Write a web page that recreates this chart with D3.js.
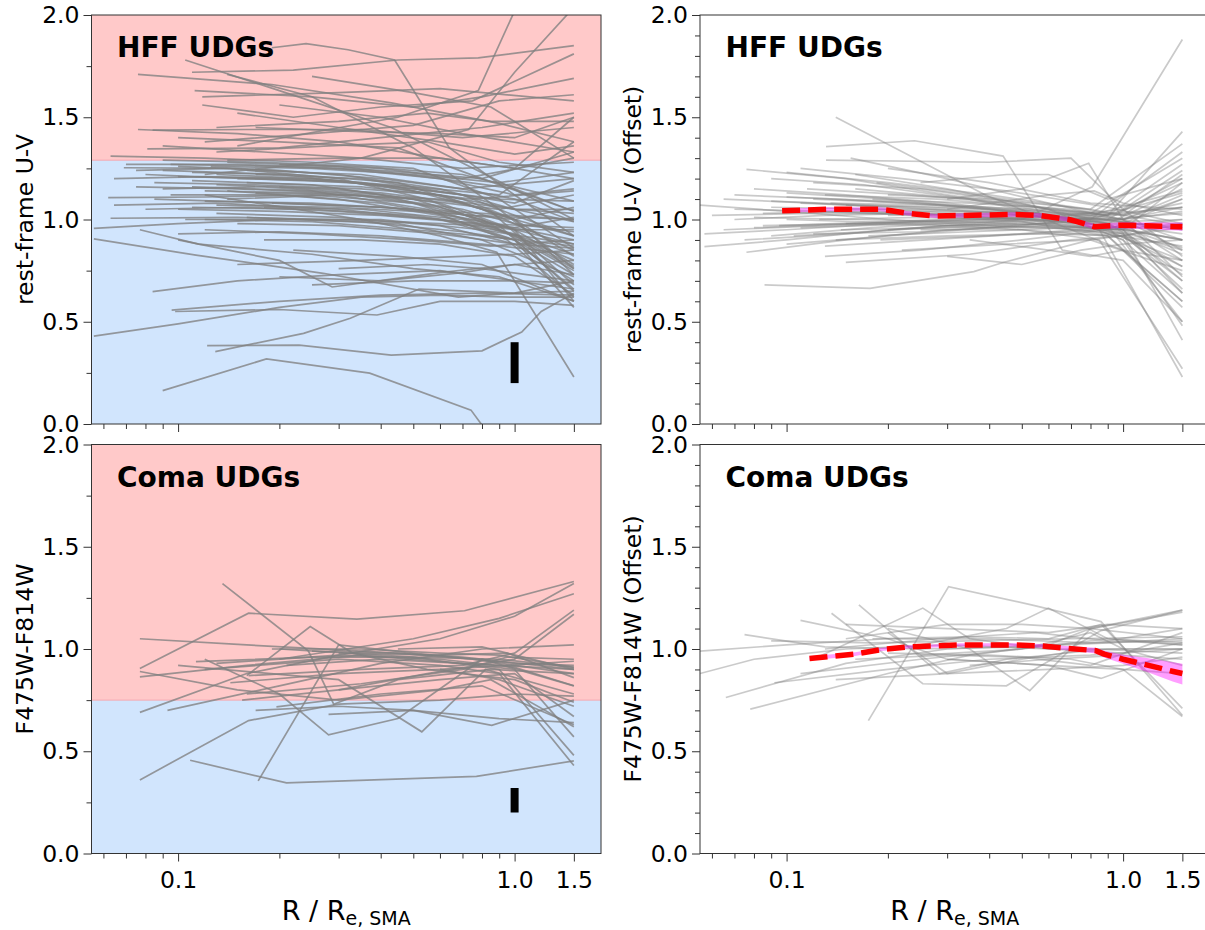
<!DOCTYPE html>
<html>
<head>
<meta charset="utf-8">
<script src="https://cdn.jsdelivr.net/npm/d3@7"></script>
<style>
  body { margin: 0; background: #fff; }
  svg { display: block; font-family: "DejaVu Sans", sans-serif; }
</style>
</head>
<body>
<div id="chart"></div>
<script>
// profiles: each one is a list of [R / Re, colour] points
const hffProfiles = [
  [[0.105,1.78],[0.2,1.63],[0.43,1.45],[0.82,1.22],[1.5,1.0]],
  [[0.076,1.71],[0.19,1.66],[0.43,1.57],[0.9,1.47],[1.5,1.38]],
  [[0.11,1.72],[0.22,1.73],[0.45,1.78],[0.78,1.79],[1.5,1.85]],
  [[0.19,1.84],[0.24,1.86],[0.32,1.83],[0.44,1.78],[0.64,1.35],[1.0,1.12],[1.5,0.92]],
  [[0.15,1.36],[0.45,1.5],[0.78,1.63],[1.0,2.02],[1.1,2.2]],
  [[0.12,1.22],[0.35,1.3],[0.73,1.44],[1.0,1.72],[1.43,2.0],[1.6,2.15]],
  [[0.112,1.63],[0.25,1.6],[0.5,1.55],[0.8,1.6],[1.5,1.69]],
  [[0.118,1.6],[0.3,1.62],[0.6,1.64],[1.5,1.58]],
  [[0.118,1.56],[0.22,1.5],[0.4,1.55],[0.75,1.58],[1.5,1.81]],
  [[0.076,1.44],[0.15,1.42],[0.3,1.38],[0.6,1.3],[1.0,1.25],[1.5,1.5]],
  [[0.081,1.345],[0.2,1.35],[0.4,1.4],[0.8,1.45],[1.5,1.52]],
  [[0.084,1.437],[0.16,1.44],[0.35,1.44],[0.7,1.4],[1.5,1.45]],
  [[0.063,1.31],[0.12,1.3],[0.25,1.28],[0.5,1.25],[0.9,1.1],[1.5,0.86]],
  [[0.14,1.71],[0.25,1.6],[0.5,1.35],[0.9,1.05],[1.5,0.76]],
  [[0.13,1.45],[0.3,1.48],[0.55,1.52],[0.85,1.48],[1.5,1.48]],
  [[0.1,1.4],[0.2,1.38],[0.45,1.35],[0.8,1.2],[1.5,1.04]],
  [[0.15,1.52],[0.3,1.45],[0.6,1.38],[1.0,1.32],[1.5,1.36]],
  [[0.12,1.38],[0.25,1.42],[0.5,1.46],[0.9,1.58],[1.5,1.61]],
  [[0.2,1.56],[0.4,1.5],[0.7,1.42],[1.5,1.33]],
  [[0.09,1.36],[0.18,1.33],[0.35,1.3],[0.7,1.25],[1.5,1.28]],
  [[0.25,1.7],[0.5,1.62],[0.85,1.55],[1.5,1.3]],
  [[0.17,1.45],[0.35,1.43],[0.6,1.42],[1.0,1.4],[1.5,1.5]],
  [[0.13,1.33],[0.28,1.36],[0.55,1.38],[0.9,1.28],[1.5,1.23]],
  [[0.069,1.253],[0.15,1.25],[0.3,1.22],[0.6,1.15],[1.0,1.05],[1.5,0.99]],
  [[0.0645,1.2],[0.12,1.21],[0.25,1.2],[0.5,1.15],[0.9,1.1],[1.5,1.09]],
  [[0.062,1.107],[0.12,1.11],[0.25,1.12],[0.5,1.08],[0.9,0.95],[1.5,0.83]],
  [[0.0645,1.07],[0.13,1.08],[0.3,1.05],[0.6,1.0],[1.0,0.9],[1.5,0.73]],
  [[0.063,1.006],[0.15,1.01],[0.3,1.0],[0.6,0.98],[1.0,0.96],[1.5,1.01]],
  [[0.0562,0.957],[0.1,0.98],[0.2,1.0],[0.4,1.0],[0.8,0.95],[1.5,0.88]],
  [[0.0562,0.905],[0.113,0.826],[0.27,0.737],[0.68,0.62],[1.0,0.64],[1.5,0.7]],
  [[0.077,0.95],[0.115,0.88],[0.25,0.83],[0.5,0.76],[0.9,0.72],[1.5,0.6]],
  [[0.084,0.647],[0.15,0.7],[0.3,0.73],[0.6,0.75],[1.0,0.7],[1.5,0.69]],
  [[0.0562,0.43],[0.1,0.49],[0.2,0.57],[0.35,0.62],[0.6,0.63],[1.0,0.62],[1.5,0.62]],
  [[0.0957,0.557],[0.2,0.6],[0.4,0.63],[0.8,0.64],[1.5,0.63]],
  [[0.098,0.55],[0.2,0.56],[0.39,0.533],[0.6,0.6],[1.0,0.6],[1.5,0.58]],
  [[0.122,0.383],[0.229,0.386],[0.43,0.337],[0.8,0.358],[1.05,0.45],[1.2,0.55],[1.5,0.64]],
  [[0.129,0.354],[0.236,0.443],[0.325,0.517],[0.52,0.66],[1.0,0.64],[1.5,0.65]],
  [[0.09,0.163],[0.183,0.318],[0.371,0.249],[0.742,0.068],[0.9,-0.12]],
  [[0.12,1.12],[0.35,1.0],[0.6,0.92],[0.885,0.84],[1.5,0.23]],
  [[0.07,1.27],[0.15,1.27],[0.3,1.25],[0.6,1.2],[1.0,1.12],[1.5,1.15]],
  [[0.075,1.24],[0.14,1.25],[0.3,1.2],[0.55,1.1],[0.9,0.95],[1.5,0.8]],
  [[0.08,1.22],[0.16,1.2],[0.35,1.18],[0.7,1.1],[1.0,1.0],[1.5,0.92]],
  [[0.085,1.18],[0.17,1.17],[0.35,1.15],[0.6,1.12],[1.0,1.05],[1.5,1.03]],
  [[0.09,1.15],[0.18,1.16],[0.4,1.12],[0.8,1.0],[1.5,0.75]],
  [[0.095,1.12],[0.2,1.12],[0.4,1.08],[0.75,1.0],[1.5,0.9]],
  [[0.1,1.26],[0.2,1.24],[0.4,1.2],[0.7,1.15],[1.5,1.2]],
  [[0.1,1.05],[0.2,1.04],[0.4,1.02],[0.8,0.98],[1.5,0.96]],
  [[0.105,1.0],[0.22,1.0],[0.45,0.98],[0.8,0.9],[1.5,0.72]],
  [[0.11,1.23],[0.22,1.22],[0.45,1.18],[0.8,1.05],[1.5,0.85]],
  [[0.11,1.19],[0.25,1.17],[0.5,1.1],[0.9,0.97],[1.5,0.65]],
  [[0.12,1.14],[0.25,1.13],[0.5,1.1],[0.9,1.05],[1.5,1.12]],
  [[0.12,1.09],[0.25,1.08],[0.5,1.05],[0.85,0.98],[1.5,0.88]],
  [[0.125,1.26],[0.25,1.25],[0.5,1.22],[0.9,1.18],[1.5,1.23]],
  [[0.13,1.03],[0.3,1.01],[0.6,0.97],[1.0,0.88],[1.5,0.7]],
  [[0.13,1.17],[0.3,1.15],[0.6,1.08],[1.0,0.95],[1.5,0.78]],
  [[0.14,1.28],[0.3,1.26],[0.6,1.2],[1.0,1.15],[1.5,1.04]],
  [[0.14,1.1],[0.3,1.12],[0.6,1.1],[1.0,1.05],[1.5,1.05]],
  [[0.15,1.2],[0.3,1.19],[0.6,1.12],[1.0,1.0],[1.5,0.82]],
  [[0.15,0.98],[0.3,0.97],[0.6,0.93],[1.0,0.88],[1.5,0.86]],
  [[0.16,1.24],[0.35,1.22],[0.7,1.15],[1.0,1.1],[1.5,0.99]],
  [[0.17,1.13],[0.35,1.12],[0.7,1.05],[1.0,0.98],[1.5,0.94]],
  [[0.18,1.06],[0.35,1.05],[0.7,1.0],[1.0,0.92],[1.5,0.76]],
  [[0.2,1.27],[0.4,1.25],[0.7,1.2],[1.5,1.3]],
  [[0.085,1.1],[0.2,1.08],[0.4,1.06],[0.8,1.03],[1.5,1.0]],
  [[0.09,1.29],[0.18,1.28],[0.35,1.26],[0.7,1.22],[1.5,1.09]],
  [[0.075,1.16],[0.15,1.15],[0.3,1.13],[0.6,1.06],[1.0,0.95],[1.5,0.6]],
  [[0.1,1.21],[0.2,1.2],[0.4,1.17],[0.7,1.12],[1.0,1.08],[1.5,1.19]],
  [[0.12,1.0],[0.25,0.99],[0.5,0.95],[0.8,0.92],[1.5,0.87]],
  [[0.14,1.14],[0.3,1.1],[0.6,1.02],[1.0,0.9],[1.5,0.57]],
  [[0.095,1.27],[0.2,1.26],[0.4,1.24],[0.8,1.2],[1.5,1.33]],
  [[0.11,1.06],[0.25,1.05],[0.5,1.02],[1.0,0.95],[1.5,0.95]],
  [[0.13,1.22],[0.25,1.2],[0.5,1.16],[0.9,1.12],[1.5,1.38]],
  [[0.16,1.01],[0.35,0.99],[0.7,0.94],[1.0,0.9],[1.5,0.66]],
  [[0.2,1.16],[0.4,1.13],[0.7,1.08],[1.0,1.0],[1.5,0.73]],
  [[0.1,0.93],[0.2,0.94],[0.4,0.92],[0.8,0.88],[1.5,0.83]],
  [[0.12,0.95],[0.25,0.93],[0.5,0.9],[0.85,0.87],[1.5,0.9]],
  [[0.18,0.9],[0.35,0.9],[0.6,0.88],[1.0,0.82],[1.5,0.63]],
  [[0.22,0.85],[0.45,0.82],[0.8,0.78],[1.5,0.6]],
  [[0.2,0.72],[0.4,0.7],[0.7,0.74],[1.0,0.78],[1.5,0.8]],
  [[0.15,0.78],[0.35,0.8],[0.7,0.82],[1.0,0.83],[1.5,0.85]],
  [[0.25,0.68],[0.5,0.7],[1.0,0.7],[1.5,0.66]],
  [[0.14,1.29],[0.3,1.3],[0.6,1.3],[1.0,1.25],[1.5,1.2]],
  [[0.17,1.22],[0.35,1.2],[0.7,1.12],[1.0,1.02],[1.5,0.92]],
  [[0.19,1.08],[0.4,1.06],[0.75,1.02],[1.5,1.0]],
  [[0.08,1.05],[0.16,1.06],[0.3,1.04],[0.6,1.0],[1.0,0.93],[1.5,0.77]],
  [[0.3,0.76],[0.55,0.78],[0.8,0.76],[1.5,0.7]],
  [[0.1,0.9],[0.2,0.8],[0.287,0.67],[0.6,0.74],[1.0,0.78],[1.5,0.73]],
  [[0.09,1.24],[0.2,1.22],[0.45,1.16],[0.85,1.04],[1.5,0.68]],
  [[0.11,1.16],[0.25,1.14],[0.55,1.05],[0.95,0.9],[1.5,0.62]],
  [[0.13,1.07],[0.3,1.06],[0.65,1.03],[1.0,1.0],[1.5,1.06]],
  [[0.16,1.18],[0.35,1.16],[0.75,1.1],[1.5,1.14]]
];

const hffOffsetProfiles = [
  [[0.086,0.68],[0.177,0.663],[0.36,0.745],[0.44,0.79],[0.8,0.9],[1.5,0.96]],
  [[0.14,1.5],[0.39,1.12],[0.7,0.95],[1.0,0.85],[1.5,0.6]],
  [[0.131,1.356],[0.24,1.385],[0.44,1.31],[0.66,0.85],[1.0,0.8],[1.5,0.5]],
  [[0.131,1.29],[0.4,1.28],[0.7,1.3],[1.0,1.05],[1.5,0.82]],
  [[0.3,1.1],[0.5,1.15],[0.79,1.275],[1.0,1.0],[1.5,0.72]],
  [[0.2,0.95],[0.5,1.0],[0.81,1.16],[1.5,1.88]],
  [[0.0553,1.07],[0.1,1.04],[0.2,1.0],[0.4,0.97],[0.8,0.95],[1.5,1.0]],
  [[0.057,0.93],[0.1,0.95],[0.2,0.98],[0.4,1.0],[0.8,1.02],[1.5,1.06]],
  [[0.057,0.867],[0.1,0.9],[0.2,0.95],[0.4,0.98],[0.8,1.0],[1.5,1.13]],
  [[0.076,1.245],[0.15,1.2],[0.3,1.12],[0.6,1.05],[1.0,1.0],[1.5,0.9]],
  [[0.076,0.84],[0.15,0.9],[0.3,0.95],[0.6,0.97],[1.0,0.95],[1.5,1.18]],
  [[0.065,1.1],[0.12,1.08],[0.25,1.05],[0.5,1.02],[0.9,1.0],[1.5,1.2]],
  [[0.07,1.0],[0.13,1.02],[0.25,1.03],[0.5,1.0],[0.9,0.95],[1.5,0.77]],
  [[0.08,1.15],[0.15,1.12],[0.3,1.08],[0.6,1.02],[1.0,0.95],[1.5,0.7]],
  [[0.09,1.2],[0.17,1.17],[0.35,1.1],[0.7,1.0],[1.0,0.9],[1.5,0.64]],
  [[0.085,0.97],[0.17,0.98],[0.35,1.0],[0.7,1.02],[1.0,1.05],[1.5,1.24]],
  [[0.1,1.13],[0.2,1.1],[0.4,1.05],[0.8,0.98],[1.5,0.9]],
  [[0.1,0.88],[0.2,0.92],[0.4,0.96],[0.8,1.0],[1.5,1.33]],
  [[0.11,1.08],[0.22,1.06],[0.45,1.03],[0.9,0.98],[1.5,0.83]],
  [[0.12,0.93],[0.25,0.94],[0.5,0.97],[0.9,1.02],[1.5,1.06]],
  [[0.12,1.18],[0.25,1.15],[0.5,1.08],[0.9,0.98],[1.5,0.77]],
  [[0.13,0.82],[0.25,0.85],[0.5,0.9],[0.9,0.95],[1.5,1.1]],
  [[0.14,1.05],[0.3,1.05],[0.6,1.02],[1.0,0.97],[1.5,0.93]],
  [[0.15,0.98],[0.3,0.97],[0.6,0.98],[1.0,1.0],[1.5,1.04]],
  [[0.16,1.22],[0.3,1.15],[0.6,1.05],[1.0,0.9],[1.5,0.48]],
  [[0.15,0.79],[0.35,0.83],[0.7,0.9],[1.0,0.92],[1.5,0.98]],
  [[0.18,1.1],[0.35,1.08],[0.7,1.05],[1.0,1.0],[1.5,1.12]],
  [[0.19,0.9],[0.4,0.92],[0.75,0.95],[1.5,0.87]],
  [[0.2,1.02],[0.4,1.03],[0.8,1.0],[1.5,0.96]],
  [[0.09,1.06],[0.2,1.05],[0.4,1.02],[0.8,0.98],[1.0,0.93],[1.5,0.41]],
  [[0.1,1.0],[0.25,0.98],[0.5,0.95],[0.85,0.9],[1.5,0.27]],
  [[0.11,0.96],[0.25,0.98],[0.5,0.99],[0.85,0.95],[1.5,0.23]],
  [[0.1,1.23],[0.2,1.18],[0.4,1.12],[0.8,1.05],[1.5,1.37]],
  [[0.13,1.12],[0.28,1.1],[0.55,1.06],[0.9,1.02],[1.5,1.43]],
  [[0.07,1.12],[0.14,1.1],[0.28,1.07],[0.55,1.03],[0.9,0.98],[1.5,1.15]],
  [[0.075,0.9],[0.15,0.93],[0.3,0.97],[0.6,0.98],[0.9,0.96],[1.5,0.85]],
  [[0.085,1.03],[0.16,1.04],[0.32,1.02],[0.65,0.99],[1.0,0.93],[1.5,0.66]],
  [[0.095,0.97],[0.2,0.99],[0.4,1.01],[0.8,1.03],[1.5,1.3]],
  [[0.12,1.04],[0.25,1.02],[0.5,0.99],[0.9,0.92],[1.5,0.6]],
  [[0.14,0.9],[0.3,0.92],[0.6,0.93],[1.0,0.92],[1.5,0.7]],
  [[0.16,1.15],[0.35,1.1],[0.7,1.02],[1.5,0.95]],
  [[0.2,1.25],[0.4,1.18],[0.8,1.08],[1.5,1.05]],
  [[0.22,0.85],[0.45,0.88],[0.8,0.9],[1.5,0.75]],
  [[0.25,1.18],[0.45,1.22],[0.6,1.22],[0.9,1.1],[1.5,1.2]],
  [[0.3,0.82],[0.5,0.78],[0.75,0.85],[1.0,0.88],[1.5,0.9]],
  [[0.09,1.09],[0.18,1.07],[0.36,1.05],[0.7,1.02],[1.0,0.99],[1.5,1.0]],
  [[0.08,1.01],[0.16,1.0],[0.32,0.99],[0.64,0.97],[1.0,0.95],[1.5,0.9]],
  [[0.105,0.92],[0.21,0.95],[0.42,0.97],[0.84,0.96],[1.5,0.8]],
  [[0.115,1.15],[0.23,1.12],[0.46,1.08],[0.9,1.02],[1.5,1.27]],
  [[0.125,1.0],[0.25,1.01],[0.5,1.0],[0.9,0.97],[1.5,0.5]],
  [[0.135,1.08],[0.27,1.07],[0.55,1.05],[0.95,1.03],[1.5,1.18]],
  [[0.145,0.95],[0.3,0.96],[0.6,0.96],[1.0,0.93],[1.5,0.73]],
  [[0.155,1.3],[0.3,1.2],[0.6,1.08],[1.0,1.0],[1.5,0.85]],
  [[0.165,1.04],[0.33,1.04],[0.66,1.03],[1.0,1.0],[1.5,1.1]],
  [[0.06,1.02],[0.12,1.03],[0.24,1.03],[0.5,1.02],[0.9,1.0],[1.5,1.03]],
  [[0.065,0.95],[0.13,0.97],[0.26,0.99],[0.5,1.0],[0.9,1.0],[1.5,0.95]],
  [[0.175,0.92],[0.35,0.94],[0.7,0.96],[1.0,0.95],[1.5,0.64]],
  [[0.185,1.18],[0.36,1.12],[0.7,1.06],[1.0,1.02],[1.5,1.22]],
  [[0.11,1.25],[0.22,1.2],[0.45,1.14],[0.9,1.06],[1.5,0.98]],
  [[0.09,0.92],[0.18,0.96],[0.36,0.99],[0.72,1.0],[1.0,0.98],[1.5,0.8]],
  [[0.13,0.87],[0.26,0.9],[0.52,0.93],[0.9,0.95],[1.5,0.98]],
  [[0.15,1.07],[0.3,1.06],[0.6,1.04],[1.0,1.02],[1.5,1.08]],
  [[0.12,1.1],[0.24,1.08],[0.5,1.04],[0.9,0.97],[1.5,0.9]],
  [[0.2,1.12],[0.4,1.1],[0.8,1.05],[1.5,0.97]],
  [[0.25,0.95],[0.5,0.95],[0.9,0.92],[1.5,0.57]],
  [[0.1,1.11],[0.2,1.09],[0.4,1.06],[0.8,1.02],[1.5,1.14]],
  [[0.07,1.05],[0.14,1.04],[0.28,1.02],[0.56,1.0],[1.0,0.96],[1.5,0.86]],
  [[0.08,0.96],[0.16,0.98],[0.32,1.0],[0.64,1.01],[1.0,1.0],[1.5,1.06]],
  [[0.3,1.05],[0.6,1.12],[0.82,1.14],[1.0,1.08],[1.5,1.02]],
  [[0.35,0.9],[0.6,0.85],[0.8,0.82],[1.0,0.85],[1.5,0.8]]
];

const comaProfiles = [
  [[0.077,1.05],[0.16,1.02],[0.35,0.99],[0.7,0.96],[1.5,0.9]],
  [[0.077,0.905],[0.162,1.175],[0.34,1.146],[0.71,1.187],[1.5,1.33]],
  [[0.1355,1.32],[0.244,0.99],[0.29,0.73],[0.45,0.85],[0.85,0.9],[1.5,0.88]],
  [[0.16,0.87],[0.247,1.11],[0.33,0.98],[0.55,0.9],[1.0,0.85],[1.5,0.74]],
  [[0.1086,0.456],[0.21,0.345],[0.77,0.377],[1.5,0.453]],
  [[0.077,0.36],[0.162,0.65],[0.3,0.73],[0.6,0.75],[1.0,0.78],[1.5,0.77]],
  [[0.173,0.355],[0.3,1.02],[0.5,0.98],[1.0,0.93],[1.5,0.92]],
  [[0.077,0.69],[0.16,0.88],[0.3,0.97],[0.6,1.05],[1.0,1.16],[1.5,1.32]],
  [[0.093,0.7],[0.2,0.82],[0.4,0.93],[0.8,1.0],[1.5,1.02]],
  [[0.12,0.95],[0.2,0.78],[0.28,0.58],[0.45,0.66],[0.8,0.95],[1.5,0.82]],
  [[0.1,0.92],[0.3,0.85],[0.53,0.595],[0.82,0.9],[1.5,0.78]],
  [[0.17,0.7],[0.3,0.72],[0.5,0.7],[0.855,0.627],[1.5,0.75]],
  [[0.12,0.9],[0.3,0.95],[0.6,0.92],[0.9,0.88],[1.5,0.43]],
  [[0.2,1.0],[0.5,0.96],[0.9,0.9],[1.5,0.48]],
  [[0.077,0.864],[0.16,0.92],[0.35,0.97],[0.7,0.93],[1.5,0.9]],
  [[0.2,0.95],[0.5,1.05],[0.9,1.15],[1.5,1.27]],
  [[0.113,0.938],[0.25,0.96],[0.5,0.96],[0.9,0.95],[1.5,0.91]],
  [[0.143,0.835],[0.3,0.88],[0.6,0.9],[0.95,0.92],[1.5,0.94]],
  [[0.155,0.75],[0.3,0.8],[0.6,0.85],[1.0,0.88],[1.5,0.67]],
  [[0.162,0.87],[0.35,0.9],[0.7,0.92],[1.0,0.98],[1.5,1.19]],
  [[0.196,0.717],[0.4,0.78],[0.8,0.82],[1.5,0.63]],
  [[0.21,0.92],[0.4,0.95],[0.7,0.93],[1.0,0.9],[1.5,0.57]],
  [[0.25,0.99],[0.45,0.98],[0.75,0.95],[1.0,0.92],[1.5,0.88]],
  [[0.3,0.98],[0.6,0.97],[0.95,0.98],[1.5,0.9]],
  [[0.28,0.68],[0.5,0.7],[0.9,0.66],[1.5,0.64]],
  [[0.13,0.93],[0.3,0.97],[0.6,0.95],[1.0,0.91],[1.5,0.82]],
  [[0.45,1.0],[0.8,1.01],[0.95,0.98],[1.5,0.86]],
  [[0.19,1.0],[0.35,1.0],[0.6,0.98],[0.9,0.97],[1.5,0.91]],
  [[0.3,0.8],[0.55,0.88],[1.0,0.95],[1.5,1.17]],
  [[0.16,0.78],[0.35,0.83],[0.7,0.9],[0.95,0.96],[1.5,0.95]],
  [[0.6,0.9],[0.9,0.85],[1.5,0.72]],
  [[0.077,0.89],[0.15,0.8],[0.3,0.75],[0.6,0.8],[0.85,0.85],[1.5,0.62]]
];

const comaOffsetProfiles = [
  [[0.175,0.65],[0.303,1.305],[0.534,1.216],[0.86,1.134],[1.5,0.676]],
  [[0.164,1.216],[0.285,0.88],[0.45,0.95],[0.9,1.0],[1.5,1.0]],
  [[0.12,0.95],[0.254,1.2],[0.35,1.05],[0.6,1.0],[1.0,0.98],[1.5,1.03]],
  [[0.136,1.175],[0.254,0.83],[0.45,0.82],[0.86,1.09],[1.5,1.19]],
  [[0.11,1.14],[0.2,1.05],[0.3,0.95],[0.6,0.92],[1.0,0.9],[1.5,0.88]],
  [[0.075,1.07],[0.13,1.01],[0.25,1.0],[0.5,1.01],[0.9,1.03],[1.5,1.05]],
  [[0.0553,0.99],[0.1,1.02],[0.2,1.05],[0.4,1.05],[0.8,1.03],[1.5,1.04]],
  [[0.0553,0.88],[0.08,0.95],[0.15,1.0],[0.3,1.02],[0.6,1.0],[1.5,1.0]],
  [[0.066,0.763],[0.15,0.93],[0.3,1.0],[0.6,1.02],[1.0,1.04],[1.5,1.02]],
  [[0.078,0.706],[0.2,0.88],[0.35,0.97],[0.6,1.02],[0.8,1.1],[1.5,1.18]],
  [[0.092,0.835],[0.2,0.9],[0.4,0.95],[0.8,0.97],[1.5,1.0]],
  [[0.14,0.85],[0.3,0.88],[0.6,0.9],[1.0,0.92],[1.5,0.96]],
  [[0.2,1.1],[0.35,1.0],[0.528,0.796],[0.8,1.1],[1.5,1.05]],
  [[0.3,0.95],[0.6,0.92],[0.86,0.856],[1.5,1.0]],
  [[0.15,1.12],[0.3,1.1],[0.6,1.08],[0.9,1.12],[1.5,1.1]],
  [[0.18,1.05],[0.35,1.06],[0.6,1.05],[0.86,1.12],[1.5,0.71]],
  [[0.2,0.98],[0.4,0.97],[0.7,0.95],[1.0,0.9],[1.5,0.67]],
  [[0.09,1.04],[0.18,1.03],[0.35,1.04],[0.7,1.05],[1.5,1.06]],
  [[0.25,1.02],[0.45,1.1],[0.6,1.2],[0.9,1.05],[1.5,1.02]],
  [[0.16,0.95],[0.3,0.97],[0.5,0.96],[0.8,0.92],[1.5,1.08]],
  [[0.11,0.88],[0.25,0.95],[0.5,1.0],[0.9,1.05],[1.5,1.03]],
  [[0.2,1.08],[0.3,0.88],[0.5,0.95],[0.8,1.0],[1.5,0.98]],
  [[0.13,1.0],[0.28,1.05],[0.55,1.08],[0.9,1.04],[1.5,1.1]],
  [[0.25,0.97],[0.5,1.0],[0.8,1.08],[1.0,1.0],[1.5,0.92]],
  [[0.35,0.92],[0.6,0.95],[1.0,0.97],[1.5,0.95]],
  [[0.15,1.05],[0.3,1.12],[0.5,1.12],[0.8,1.1],[1.5,1.19]]
];

// running median and its uncertainty band (right-hand panels)
const hffMedR    = [0.097,0.133,0.19,0.205,0.23,0.276,0.334,0.48,0.57,0.69,0.73,0.82,0.98,1.5];
const hffMedV    = [1.043,1.05,1.05,1.043,1.03,1.017,1.02,1.025,1.019,1.0,0.99,0.965,0.972,0.965];
const hffBandLo  = [1.033,1.04,1.04,1.033,1.02,1.007,1.01,1.014,1.008,0.989,0.978,0.952,0.957,0.945];
const hffBandHi  = [1.053,1.06,1.06,1.053,1.04,1.027,1.03,1.036,1.03,1.011,1.002,0.978,0.987,0.985];

const comaMedR   = [0.117,0.16,0.192,0.23,0.33,0.477,0.573,0.688,0.83,0.878,1.0,1.19,1.41,1.5];
const comaMedV   = [0.954,0.975,0.998,1.01,1.02,1.02,1.015,1.003,0.992,0.975,0.95,0.92,0.89,0.88];
const comaBandLo = [0.944,0.966,0.99,1.002,1.012,1.012,1.006,0.993,0.978,0.958,0.928,0.885,0.84,0.826];
const comaBandHi = [0.964,0.984,1.006,1.018,1.028,1.028,1.024,1.013,1.006,0.992,0.972,0.955,0.935,0.928];

// red / blue split and typical error bar (left-hand panels)
const hffSplit = 1.29, comaSplit = 0.75;
const hffErr = [0.2, 0.4], comaErr = [0.2, 0.32];

// ticks
const xMajorTicks  = [0.1, 1.0, 1.5];
const xMajorLabels = ["0.1", "1.0", "1.5"];
const xMinorTicks  = [0.06,0.07,0.08,0.09,0.2,0.3,0.4,0.5,0.6,0.7,0.8,0.9];
const yMajorTicks  = [0, 0.5, 1.0, 1.5, 2.0];
const yMajorLabels = ["0.0", "0.5", "1.0", "1.5", "2.0"];
const yMinorSplit  = [0.25, 0.75, 1.25, 1.75];
const yMinorOffset = [0.1,0.2,0.3,0.4,0.6,0.7,0.8,0.9,1.1,1.2,1.3,1.4,1.6,1.7,1.8,1.9];

// layout
const pw = 509.5, ph = 409;
const svg = d3.select("#chart").append("svg")
    .attr("width", 1205)
    .attr("height", 930);
const defs = svg.append("defs");

const x = d3.scaleLog().domain([0.0553, 1.806]).range([0, pw]);
const y = d3.scaleLinear().domain([0, 2]).range([ph, 0]);
const line = d3.line().x(d => x(d[0])).y(d => y(d[1]));

const panels = [
  {id: "a", left: 91.5, top: 15, data: hffProfiles, split: hffSplit, err: hffErr,
   title: "HFF UDGs", ylabel: "rest-frame U-V", xlabels: false, yMinor: yMinorSplit},
  {id: "b", left: 700, top: 15, data: hffOffsetProfiles,
   med: {r: hffMedR, v: hffMedV, lo: hffBandLo, hi: hffBandHi},
   title: "HFF UDGs", ylabel: "rest-frame U-V (Offset)", xlabels: false, yMinor: yMinorOffset},
  {id: "c", left: 91.5, top: 444.5, data: comaProfiles, split: comaSplit, err: comaErr,
   title: "Coma UDGs", ylabel: "F475W-F814W", xlabels: true, yMinor: yMinorSplit},
  {id: "d", left: 700, top: 444.5, data: comaOffsetProfiles,
   med: {r: comaMedR, v: comaMedV, lo: comaBandLo, hi: comaBandHi},
   title: "Coma UDGs", ylabel: "F475W-F814W (Offset)", xlabels: true, yMinor: yMinorOffset}
];

panels.forEach(p => {
    const g = svg.append("g").attr("transform", `translate(${p.left},${p.top})`);

    defs.append("clipPath").attr("id", "clip-" + p.id)
        .append("rect").attr("width", pw).attr("height", ph);
    const body = g.append("g").attr("clip-path", `url(#clip-${p.id})`);

    // coloured background: red above the split, blue below
    if (p.split !== undefined) {
        body.append("rect")
            .attr("x", 0).attr("y", y(2)).attr("width", pw)
            .attr("height", y(p.split) - y(2))
            .attr("fill", "#ffc9c9");
        body.append("rect")
            .attr("x", 0).attr("y", y(p.split)).attr("width", pw)
            .attr("height", y(0) - y(p.split))
            .attr("fill", "#d1e5fd");
        body.append("line")
            .attr("x1", 0).attr("x2", pw)
            .attr("y1", y(p.split)).attr("y2", y(p.split))
            .attr("stroke", "#f4a6b0").attr("stroke-width", 1);
    }

    // individual galaxy profiles
    body.selectAll("path.prof")
        .data(p.data)
        .join("path")
        .attr("class", "prof")
        .attr("d", line)
        .attr("fill", "none")
        .attr("stroke", "#808080")
        .attr("stroke-width", 1.7)
        .attr("stroke-opacity", p.split !== undefined ? 0.78 : 0.42);

    // typical uncertainty
    if (p.err) {
        body.append("line")
            .attr("x1", x(1.0)).attr("x2", x(1.0))
            .attr("y1", y(p.err[0])).attr("y2", y(p.err[1]))
            .attr("stroke", "#000").attr("stroke-width", 8);
    }

    // median with band
    if (p.med) {
        const pts = p.med.r.map((r, i) => ({r, v: p.med.v[i], lo: p.med.lo[i], hi: p.med.hi[i]}));
        body.append("path")
            .datum(pts)
            .attr("d", d3.area().x(d => x(d.r)).y0(d => y(d.lo)).y1(d => y(d.hi)))
            .attr("fill", "#ff00ff")
            .attr("fill-opacity", 0.38);
        body.append("path")
            .datum(pts)
            .attr("d", d3.line().x(d => x(d.r)).y(d => y(d.v)))
            .attr("fill", "none")
            .attr("stroke", "#ff0000")
            .attr("stroke-width", 5.5)
            .attr("stroke-dasharray", "18,8");
    }

    // frame
    g.append("rect")
        .attr("width", pw).attr("height", ph)
        .attr("fill", "none")
        .attr("stroke", "#333").attr("stroke-width", 1);

    // y axis
    const yMaj = g.append("g")
        .call(d3.axisLeft(y).tickValues(yMajorTicks)
            .tickFormat((d, i) => yMajorLabels[i]).tickSize(8).tickPadding(4));
    const yMin = g.append("g")
        .call(d3.axisLeft(y).tickValues(p.yMinor).tickFormat("").tickSize(5));

    // x axis
    const xMaj = g.append("g").attr("transform", `translate(0,${ph})`)
        .call(d3.axisBottom(x).tickValues(xMajorTicks)
            .tickFormat((d, i) => p.xlabels ? xMajorLabels[i] : "").tickSize(8).tickPadding(10));
    const xMin = g.append("g").attr("transform", `translate(0,${ph})`)
        .call(d3.axisBottom(x).tickValues(xMinorTicks).tickFormat("").tickSize(5));

    [yMaj, yMin, xMaj, xMin].forEach(a => {
        a.select(".domain").remove();
        a.selectAll("line").attr("stroke", "#333");
        a.selectAll("text")
            .attr("fill", "#000")
            .style("font-family", "'DejaVu Sans', sans-serif")
            .style("font-size", "23.5px");
    });

    // panel title
    g.append("text")
        .attr("x", 25.5).attr("y", 42)
        .style("font-size", "28px")
        .style("font-weight", "bold")
        .text(p.title);

    // y label
    g.append("text")
        .attr("transform", "rotate(-90)")
        .attr("x", -ph / 2).attr("y", -59)
        .attr("text-anchor", "middle")
        .style("font-size", "23.5px")
        .text(p.ylabel);

    // x label on the bottom row
    if (p.xlabels) {
        const t = g.append("text")
            .attr("x", pw / 2).attr("y", ph + 66)
            .attr("text-anchor", "middle")
            .style("font-size", "27px");
        t.append("tspan").text("R / R");
        t.append("tspan").attr("dy", 5).style("font-size", "19px").text("e, SMA");
    }
});
</script>
</body>
</html>
